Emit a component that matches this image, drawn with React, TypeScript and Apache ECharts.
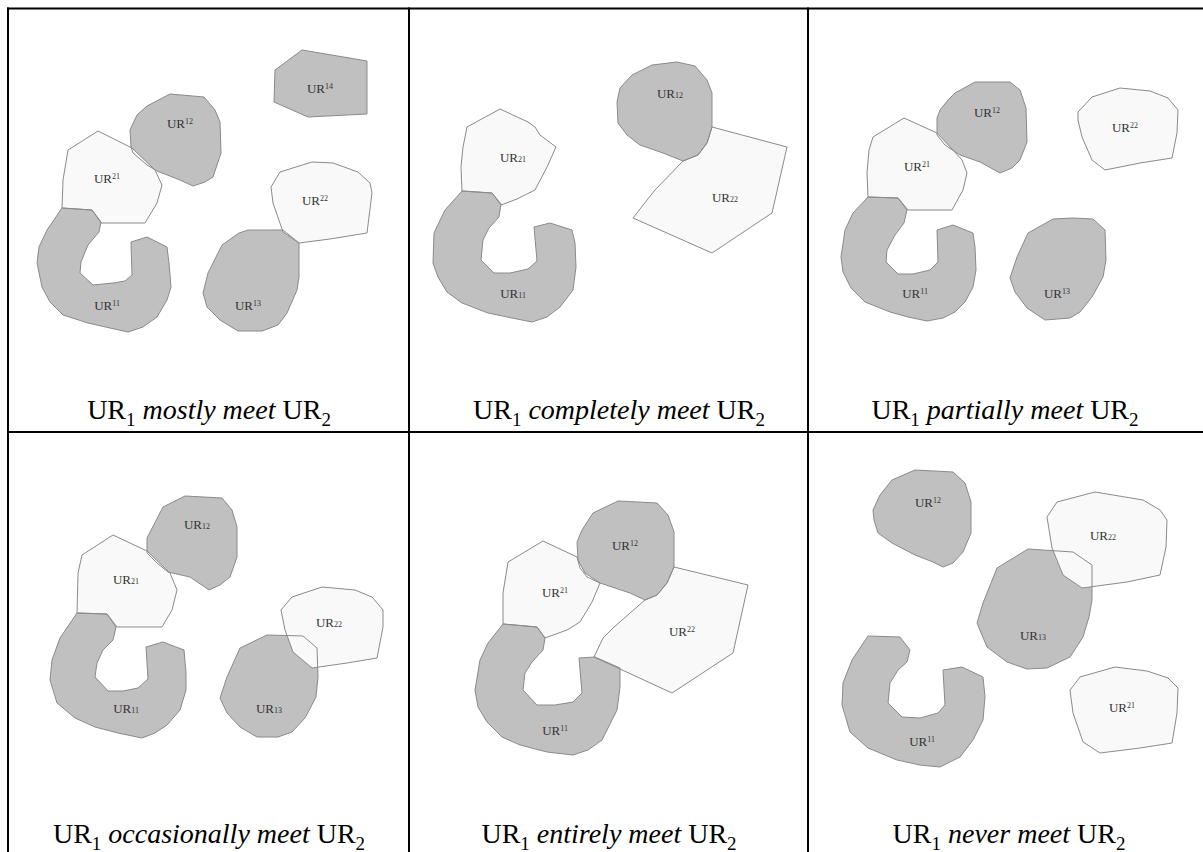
import React, { useEffect, useRef } from 'react';
import * as echarts from 'echarts';

type Region = { id: string; set: 1 | 2; script: 'sup' | 'sub'; label: number[]; points: number[][] };

// ---- Panel 1: UR1 mostly meet UR2 ----
const panel1: Region[] = [
  { id: '14', set: 1, script: 'sup', label: [320, 88], points: [[275,70],[302,50],[367,61],[367,114],[308,117],[274,102]] },
  { id: '12', set: 1, script: 'sup', label: [180, 123], points: [[130,130],[137,115],[147,106],[170,94],[204,97],[215,110],[220,122],[221,153],[213,177],[205,182],[193,186],[180,180],[157,171],[147,165],[133,153],[131,147]] },
  { id: '21', set: 2, script: 'sup', label: [107, 178], points: [[68,150],[98,131],[132,148],[155,170],[162,185],[157,203],[145,223],[101,223],[92,210],[62,208],[63,180]] },
  { id: '11', set: 1, script: 'sup', label: [107, 305], points: [[62,208],[92,210],[101,222],[99,232],[88,245],[81,262],[80,273],[93,285],[113,283],[125,281],[132,275],[131,242],[147,237],[167,247],[169,263],[171,287],[167,300],[157,317],[143,327],[128,332],[110,328],[88,323],[63,315],[50,302],[42,287],[37,263],[39,247],[47,230]] },
  { id: '13', set: 1, script: 'sup', label: [248, 305], points: [[203,293],[208,273],[222,245],[239,233],[248,230],[283,230],[299,243],[299,277],[297,290],[287,313],[278,325],[262,331],[238,331],[220,320],[207,307]] },
  { id: '22', set: 2, script: 'sup', label: [315, 200], points: [[271,187],[280,172],[312,162],[333,163],[358,172],[370,183],[372,193],[367,233],[330,239],[299,243],[283,232],[273,203]] },
];

// ---- Panel 2: UR1 completely meet UR2 ----
const panel2: Region[] = [
  { id: '21', set: 2, script: 'sub', label: [513, 157], points: [[467,127],[500,109],[528,122],[535,127],[540,135],[556,147],[547,167],[535,190],[517,199],[501,205],[492,193],[462,191],[461,167],[463,147]] },
  { id: '11', set: 1, script: 'sub', label: [513, 293], points: [[462,191],[492,193],[501,204],[499,217],[489,228],[483,240],[481,260],[494,273],[510,273],[528,269],[537,261],[534,227],[550,223],[572,230],[575,243],[576,267],[573,290],[560,307],[547,317],[532,322],[512,318],[488,313],[462,303],[447,292],[438,277],[433,263],[434,233],[445,210]] },
  { id: '12', set: 1, script: 'sub', label: [670, 93], points: [[617,102],[620,88],[632,75],[652,65],[677,62],[695,66],[707,80],[712,93],[712,127],[707,143],[698,155],[683,161],[663,153],[640,145],[627,135],[618,123]] },
  { id: '22', set: 2, script: 'sub', label: [725, 197], points: [[712,127],[787,147],[772,213],[712,253],[633,218],[647,200],[655,190],[683,161],[698,155],[707,143]] },
];

// ---- Panel 3: UR1 partially meet UR2 ----
const panel3: Region[] = [
  { id: '21', set: 2, script: 'sup', label: [917, 166], points: [[873,137],[904,118],[937,133],[953,150],[962,160],[967,173],[963,190],[952,210],[908,210],[898,198],[868,197],[867,173],[869,150]] },
  { id: '12', set: 1, script: 'sup', label: [987, 112], points: [[937,118],[940,110],[948,100],[955,93],[975,82],[1010,82],[1020,90],[1026,108],[1027,142],[1020,160],[1012,168],[1000,173],[980,162],[960,155],[945,145],[937,135]] },
  { id: '22', set: 2, script: 'sup', label: [1125, 127], points: [[1078,112],[1092,97],[1120,88],[1150,91],[1168,98],[1178,110],[1177,133],[1172,158],[1140,163],[1105,170],[1092,160],[1082,137],[1078,120]] },
  { id: '11', set: 1, script: 'sup', label: [915, 293], points: [[868,197],[898,198],[907,210],[904,223],[895,235],[887,250],[886,262],[898,274],[913,274],[930,270],[938,262],[937,230],[953,225],[973,233],[975,247],[976,270],[973,287],[965,302],[955,312],[943,318],[927,321],[908,317],[890,312],[865,302],[851,288],[843,272],[841,257],[845,230],[853,213]] },
  { id: '13', set: 1, script: 'sup', label: [1057, 293], points: [[1010,278],[1017,257],[1028,233],[1053,219],[1073,218],[1093,219],[1105,230],[1106,260],[1103,277],[1092,297],[1080,312],[1070,318],[1045,320],[1027,308],[1015,292]] },
];

// ---- Panel 4: UR1 occasionally meet UR2 ----
const panel4: Region[] = [
  { id: '12', set: 1, script: 'sub', label: [197, 524], points: [[147,538],[163,507],[185,496],[222,498],[232,510],[237,527],[237,557],[230,577],[220,585],[209,590],[190,577],[168,572],[157,563],[147,553]] },
  { id: '21', set: 2, script: 'sub', label: [126, 579], points: [[82,555],[113,535],[147,551],[170,573],[177,590],[172,610],[162,627],[117,627],[107,614],[77,613],[78,573]] },
  { id: '11', set: 1, script: 'sub', label: [126, 708], points: [[77,613],[107,614],[116,627],[113,640],[103,650],[97,663],[95,677],[108,691],[123,691],[138,688],[148,679],[146,647],[163,642],[184,650],[186,673],[186,690],[180,710],[167,725],[155,733],[142,738],[118,733],[95,727],[75,718],[57,703],[50,680],[52,660],[60,638]] },
  { id: '13', set: 1, script: 'sub', label: [269, 708], points: [[220,698],[227,677],[240,648],[267,635],[303,636],[317,648],[318,677],[316,697],[305,718],[292,732],[278,737],[257,737],[240,727],[227,713]] },
  { id: '22', set: 2, script: 'sub', label: [329, 622], points: [[281,610],[292,597],[322,587],[355,590],[372,597],[383,610],[383,627],[377,658],[347,663],[312,668],[293,652],[285,630]] },
];

// ---- Panel 5: UR1 entirely meet UR2 ----
const panel5: Region[] = [
  { id: '12', set: 1, script: 'sup', label: [625, 545], points: [[577,542],[582,530],[593,513],[618,501],[657,503],[668,515],[674,532],[674,567],[667,583],[657,595],[645,600],[630,593],[600,583],[585,573],[578,560]] },
  { id: '21', set: 2, script: 'sup', label: [555, 592], points: [[508,562],[543,541],[577,557],[580,568],[587,577],[600,583],[592,602],[580,622],[567,630],[545,638],[537,627],[503,624],[503,593]] },
  { id: '22', set: 2, script: 'sup', label: [682, 631], points: [[674,567],[748,585],[733,653],[672,693],[594,657],[603,638],[613,628],[630,613],[645,600],[657,595],[667,583]] },
  { id: '11', set: 1, script: 'sup', label: [555, 730], points: [[503,624],[537,627],[545,638],[543,650],[532,662],[525,673],[523,690],[537,705],[555,705],[573,702],[582,693],[579,658],[595,657],[620,668],[620,687],[617,710],[602,740],[588,750],[573,755],[547,752],[520,745],[502,737],[487,722],[478,707],[475,690],[480,660],[488,643]] },
];

// ---- Panel 6: UR1 never meet UR2 ----
const panel6: Region[] = [
  { id: '12', set: 1, script: 'sup', label: [928, 502], points: [[873,510],[880,495],[892,480],[915,470],[953,472],[965,483],[971,502],[971,533],[963,552],[953,563],[943,567],[933,562],[915,555],[892,543],[878,533],[874,520]] },
  { id: '22', set: 2, script: 'sub', label: [1103, 535], points: [[1047,517],[1057,502],[1095,492],[1143,500],[1160,510],[1167,520],[1166,547],[1160,575],[1127,582],[1082,588],[1063,575],[1052,548]] },
  { id: '13', set: 1, script: 'sub', label: [1033, 635], points: [[977,623],[983,603],[997,568],[1028,549],[1073,552],[1092,565],[1092,600],[1089,617],[1083,637],[1070,657],[1047,668],[1027,669],[1007,662],[987,647]] },
  { id: '11', set: 1, script: 'sup', label: [922, 741], points: [[868,636],[900,637],[910,650],[907,662],[898,670],[890,683],[888,703],[902,717],[920,718],[938,713],[945,705],[943,670],[962,667],[983,677],[985,697],[983,720],[973,740],[960,757],[940,767],[920,765],[897,760],[868,748],[850,732],[842,705],[843,683],[852,660]] },
  { id: '21', set: 2, script: 'sup', label: [1122, 707], points: [[1070,690],[1080,677],[1115,667],[1147,671],[1168,678],[1178,688],[1177,713],[1172,743],[1140,748],[1100,753],[1083,742],[1073,713]] },
];

const panels = [panel1, panel2, panel3, panel4, panel5, panel6];
const captionVerbs = ['mostly meet', 'completely meet', 'partially meet', 'occasionally meet', 'entirely meet', 'never meet'];

// ---- layout ----
const PAGE_W = 1203;
const PAGE_H = 852;
const COL_X = [8, 409, 808];
const ROW_Y = [8.5, 432];
const CAPTION_X = [209, 619, 1005, 209, 609, 1009];
const CAPTION_Y = [409, 833];
const SERIF = "'Liberation Serif', 'Times New Roman', 'DejaVu Serif', serif";
const GRAY = '#c0c0c0';
const WHITE = '#f9f9f9';
const EDGE = '#8a8a8a';

export default function App() {
  const ref = useRef<HTMLDivElement>(null);

  useEffect(() => {
    if (!ref.current) return;
    const chart = echarts.init(ref.current, null, { renderer: 'svg' });
    const all = panels.flat();
    const fillOrder = [...all.filter((r) => r.set === 1), ...all.filter((r) => r.set === 2)];

    const labelRich = {
      a: { fontFamily: SERIF, fontSize: 13, lineHeight: 12, fill: '#333' },
      sup: { fontFamily: SERIF, fontSize: 8, verticalAlign: 'top', fill: '#333' },
      sub: { fontFamily: SERIF, fontSize: 8, verticalAlign: 'bottom', fill: '#333' },
    };

    const captionRich = {
      r: { fontFamily: SERIF, fontSize: 28, lineHeight: 40, fill: '#000' },
      i: { fontFamily: SERIF, fontSize: 28, lineHeight: 40, fontStyle: 'italic', fill: '#000' },
      s: { fontFamily: SERIF, fontSize: 19, verticalAlign: 'bottom', fill: '#000' },
    };

    const lines: any[] = [];
    COL_X.forEach((x) => {
      lines.push({ type: 'line', shape: { x1: x, y1: ROW_Y[0] - 1, x2: x, y2: PAGE_H }, style: { stroke: '#000', lineWidth: 2 }, z: 100 });
    });
    ROW_Y.forEach((y) => {
      lines.push({ type: 'line', shape: { x1: COL_X[0] - 1, y1: y, x2: PAGE_W, y2: y }, style: { stroke: '#000', lineWidth: 2 }, z: 100 });
    });

    const captions = captionVerbs.map((verb, i) => ({
      type: 'text',
      x: CAPTION_X[i],
      y: CAPTION_Y[Math.floor(i / 3)],
      z: 100,
      style: {
        text: `{r|UR}{s|1} {i|${verb}} {r|UR}{s|2}`,
        rich: captionRich,
        align: 'center',
        verticalAlign: 'middle',
        fontFamily: SERIF,
        fontSize: 28,
        fill: '#000',
      },
    }));

    chart.setOption({
      animation: false,
      backgroundColor: '#ffffff',
      grid: { left: 0, right: 0, top: 0, bottom: 0 },
      xAxis: { type: 'value', min: 0, max: PAGE_W, show: false },
      yAxis: { type: 'value', min: 0, max: PAGE_H, inverse: true, show: false },
      series: [
        {
          type: 'custom',
          clip: false,
          silent: true,
          data: fillOrder.map((r) => r.label),
          renderItem: (params: any, api: any) => {
            const r = fillOrder[params.dataIndex];
            const pts = r.points.map((p) => api.coord(p));
            return {
              type: 'polygon',
              shape: { points: pts },
              style: { fill: r.set === 1 ? GRAY : WHITE, stroke: 'none' },
            };
          },
        },
        {
          type: 'custom',
          clip: false,
          silent: true,
          data: all.map((r) => r.label),
          renderItem: (params: any, api: any) => {
            const r = all[params.dataIndex];
            const pts = r.points.map((p) => api.coord(p));
            const c = api.coord(r.label);
            return {
              type: 'group',
              children: [
                {
                  type: 'polygon',
                  shape: { points: pts },
                  style: { fill: 'none', stroke: EDGE, lineWidth: 1 },
                },
                {
                  type: 'text',
                  x: c[0],
                  y: c[1],
                  style: {
                    text: `{a|UR}{${r.script}|${r.id}}`,
                    rich: labelRich,
                    align: 'center',
                    verticalAlign: 'middle',
                    fontFamily: SERIF,
                    fontSize: 13,
                    fill: '#333',
                  },
                },
              ],
            };
          },
        },
      ],
      graphic: { elements: [...lines, ...captions] },
    });

    return () => chart.dispose();
  }, []);

  return (
    <div
      ref={ref}
      style={{ position: 'absolute', left: 0, top: 0, width: PAGE_W, height: PAGE_H, background: '#fff' }}
    />
  );
}
